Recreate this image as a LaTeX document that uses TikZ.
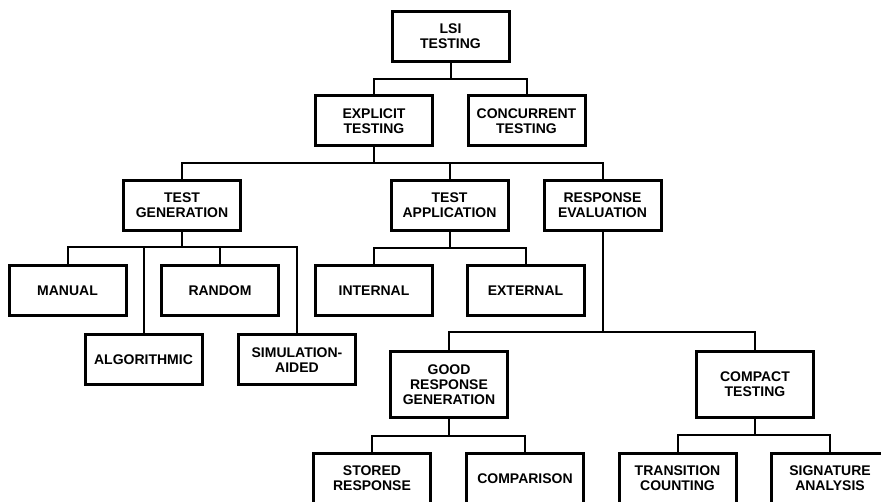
\documentclass[tikz,border=0pt]{standalone}
\usepackage{fontspec}
\setsansfont{Liberation Sans}
\usepackage{tikz}
\usetikzlibrary{positioning}

\begin{document}
\begin{tikzpicture}[
    x=1pt, y=-1pt,
    font=\sffamily\bfseries\fontsize{14}{15}\selectfont,
    block/.style={
        rectangle, draw=black, line width=3pt, fill=white,
        align=center, inner sep=2pt,
        minimum width=117pt, minimum height=50pt
    },
    tallblock/.style={block, minimum height=66pt},
    link/.style={draw=black, line width=2pt}
]
\useasboundingbox (0,0) rectangle (881,502);

% Nodes
\node[block] (lsi) at (450.5,36.5) {LSI\\TESTING};
\node[block] (explicit) at (374,121) {EXPLICIT\\TESTING};
\node[block] (concurrent) at (526.5,121) {CONCURRENT\\TESTING};

\node[block] (testgen) at (182,205.5) {TEST\\GENERATION};
\node[block] (testapp) at (449.5,205.5) {TEST\\APPLICATION};
\node[block] (respeval) at (602.5,205.5) {RESPONSE\\EVALUATION};

\node[block] (manual) at (67.5,290.5) {MANUAL};
\node[block] (random) at (220,290.5) {RANDOM};
\node[block] (algorithmic) at (143.5,360) {ALGORITHMIC};
\node[block] (simaided) at (297,360) {SIMULATION-\\AIDED};

\node[block] (internal) at (374,290.5) {INTERNAL};
\node[block] (external) at (525.5,290.5) {EXTERNAL};

\node[tallblock] (goodresp) at (449,384.5) {GOOD\\RESPONSE\\GENERATION};
\node[tallblock] (compact) at (755,384.5) {COMPACT\\TESTING};

\node[block] (stored) at (372,478.5) {STORED\\RESPONSE};
\node[block] (comparison) at (525,478.5) {COMPARISON};
\node[block] (transition) at (677.5,478.5) {TRANSITION\\COUNTING};
\node[block] (signature) at (830,478.5) {SIGNATURE\\ANALYSIS};

% Paths
\draw[link] (lsi.south) -- ++(0,16) -| (explicit.north);
\draw[link] (lsi.south) -- ++(0,16) -| (concurrent.north);

\draw[link] (explicit.south) -- ++(0,16) -| (testgen.north);
\draw[link] (explicit.south) -- ++(0,16) -| (testapp.north);
\draw[link] (explicit.south) -- ++(0,16) -| (respeval.north);

\draw[link] (testgen.south) -- ++(0,15) -| (manual.north);
\draw[link] (testgen.south) -- ++(0,15) -| (random.north);
\draw[link] (testgen.south) -- ++(0,15) -| (algorithmic.north);
\draw[link] (testgen.south) -- ++(0,15) -| (simaided.north);

\draw[link] (testapp.south) -- ++(0,16) -| (internal.north);
\draw[link] (testapp.south) -- ++(0,16) -| (external.north);

\draw[link] (respeval.south) -- ++(0,100) -| (goodresp.north);
\draw[link] (respeval.south) -- ++(0,100) -| (compact.north);

\draw[link] (goodresp.south) -- ++(0,17) -| (stored.north);
\draw[link] (goodresp.south) -- ++(0,17) -| (comparison.north);

\draw[link] (compact.south) -- ++(0,16) -| (transition.north);
\draw[link] (compact.south) -- ++(0,16) -| (signature.north);

\end{tikzpicture}
\end{document}
